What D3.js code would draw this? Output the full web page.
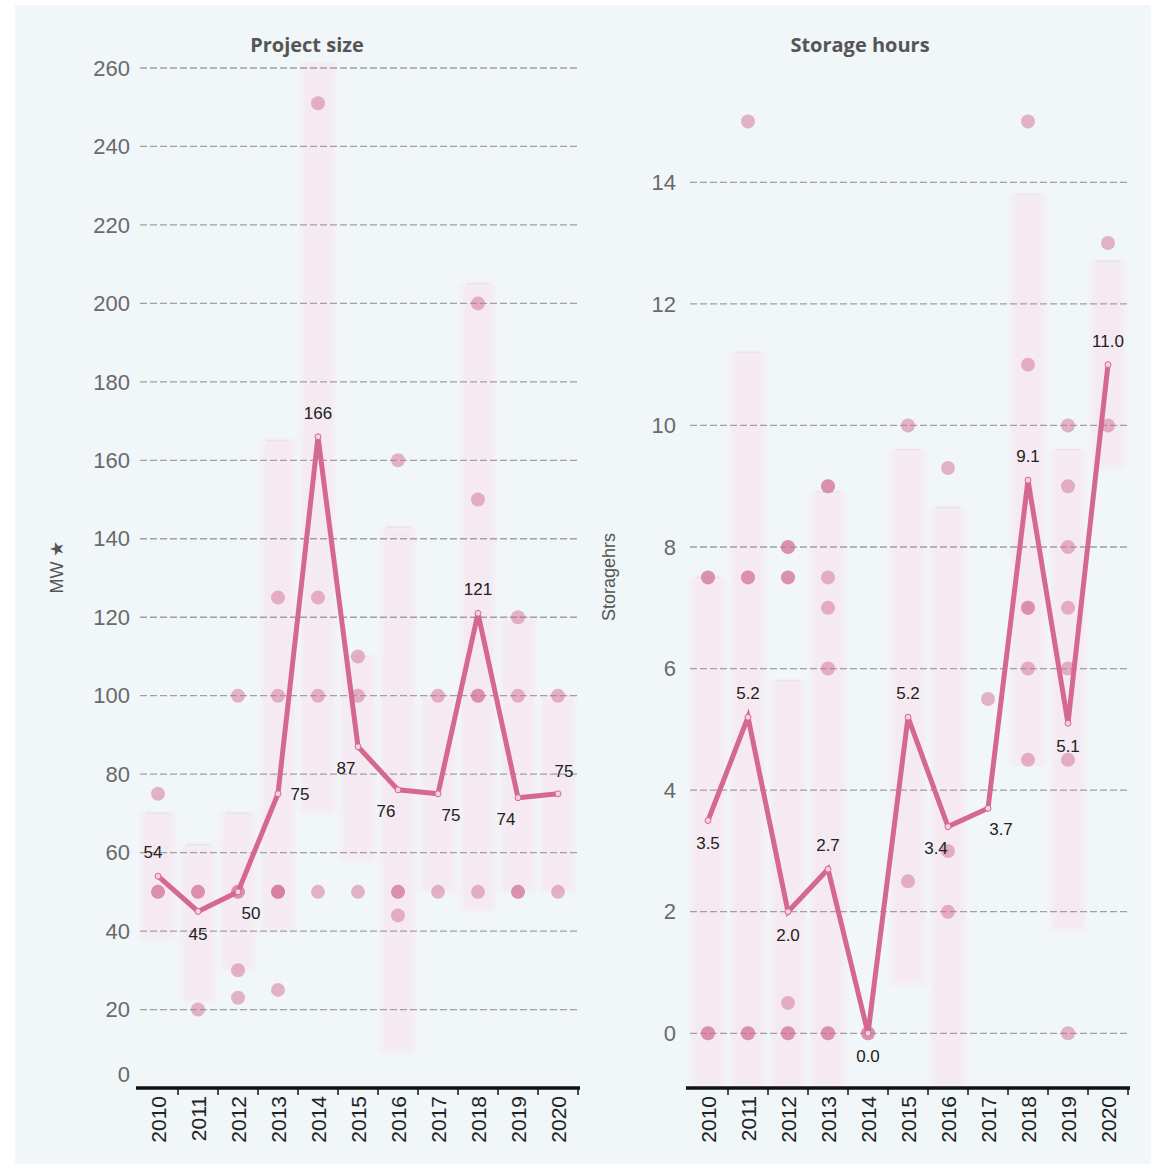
<!DOCTYPE html>
<html><head><meta charset="utf-8">
<script src="https://cdn.jsdelivr.net/npm/d3@7"></script>
<style>body{margin:0;background:#fff;}svg{display:block;}</style>
</head><body>
<script>
// ---------- data ----------
const years = ["2010","2011","2012","2013","2014","2015","2016","2017","2018","2019","2020"];

// Project size (MW)
const sizeMean = [54, 45, 50, 75, 166, 87, 76, 75, 121, 74, 75];
const sizeLow  = [38, 22, 30, 40, 70, 58, 9, 50, 45, 50, 50];
const sizeHigh = [70, 62, 70, 165, 262, 110, 143, 100, 205, 120, 100];
const sizeProjects = [
  [75, 50, 50],
  [50, 50, 20],
  [100, 50, 50, 30, 23],
  [125, 100, 50, 50, 50, 25],
  [251, 125, 100, 50],
  [110, 100, 50],
  [160, 50, 50, 44],
  [100, 50],
  [200, 150, 100, 100, 50],
  [120, 100, 50, 50],
  [100, 50]
];
const sizeTicks = [0, 20, 40, 60, 80, 100, 120, 140, 160, 180, 200, 220, 240, 260];

// Storage hours
const hoursMean = [3.5, 5.2, 2.0, 2.7, 0.0, 5.2, 3.4, 3.7, 9.1, 5.1, 11.0];
const hoursLow  = [-0.9, -0.9, -0.9, -0.9, null, 0.8, -0.9, null, 4.4, 1.7, 9.3];
const hoursHigh = [7.5, 11.2, 5.8, 8.9, null, 9.6, 8.65, null, 13.8, 9.6, 12.7];
const hoursProjects = [
  [7.5, 7.5, 0, 0],
  [15, 7.5, 7.5, 0, 0],
  [8, 8, 7.5, 7.5, 0.5, 0, 0],
  [9, 9, 7.5, 7, 6, 0, 0],
  [0, 0],
  [10, 2.5],
  [9.3, 3, 2],
  [5.5],
  [15, 11, 7, 7, 6, 4.5],
  [10, 9, 8, 7, 6, 4.5, 0],
  [13, 10]
];
const hoursTicks = [0, 2, 4, 6, 8, 10, 12, 14];

// label placement keywords (not positions)
const sizeLabelPlace  = ["aboveLeft","below","belowRight","right","above","belowLeft","belowLeft","belowRight","above","belowLeft","aboveRight"];
const hoursLabelPlace = ["below","above","below","above","below","above","belowLeft","belowRight","above","below","above"];

// ---------- drawing ----------
const W = 1153, H = 1166;
const svg = d3.select("body").append("svg").attr("width", W).attr("height", H);
svg.append("rect").attr("x", 15).attr("y", 5).attr("width", 1136).attr("height", 1159).attr("fill", "#f1f6f9");
const defs = svg.append("defs");
defs.append("filter").attr("id", "soft").append("feGaussianBlur").attr("stdDeviation", 2);

const pink = "#d5688f";
const placeOff = {
  above: [0, -24], below: [0, 23], aboveLeft: [-5, -24], aboveRight: [6, -23],
  belowLeft: [-12, 21], belowRight: [13, 21], right: [22, 0]
};
const numFont = "'Liberation Sans', Arial, sans-serif";

function panel(opt) {
  const g = svg.append("g");
  const x = d3.scaleBand().domain(years).range([opt.x0, opt.x1]);
  const y = d3.scaleLinear().domain(opt.domain).range([opt.yBottom, opt.yTop]);
  const clipId = "clip" + opt.id;
  defs.append("clipPath").attr("id", clipId).append("rect")
    .attr("x", opt.x0).attr("y", opt.yTop - 6).attr("width", opt.x1 - opt.x0).attr("height", opt.yBottom - opt.yTop + 6);

  // title
  g.append("text").attr("x", opt.titleX).attr("y", 52).attr("text-anchor", "middle")
    .attr("font-family", "'Open Sans', 'DejaVu Sans', sans-serif").attr("font-weight", 700)
    .attr("font-size", 20).attr("fill", "#555").text(opt.title);

  // range bars
  const bars = g.append("g").attr("clip-path", `url(#${clipId})`);
  years.forEach((yr, i) => {
    if (opt.low[i] == null) return;
    const bw = x.bandwidth() * 0.85;
    const bx = x(yr) + (x.bandwidth() - bw) / 2;
    const top = y(opt.high[i]), bot = y(opt.low[i]);
    bars.append("rect").attr("x", bx).attr("y", top).attr("width", bw).attr("height", bot - top)
      .attr("fill", "#fbdbe8").attr("opacity", 0.42).attr("filter", "url(#soft)");
    bars.append("line").attr("x1", bx + 5).attr("x2", bx + bw - 5).attr("y1", top).attr("y2", top)
      .attr("stroke", "#ece4e8").attr("stroke-width", 2);
  });

  // gridlines
  g.append("g").selectAll("line").data(opt.ticks.filter(t => t !== opt.noGrid)).join("line")
    .attr("x1", opt.x0 + 2).attr("x2", opt.x1).attr("y1", d => y(d)).attr("y2", d => y(d))
    .attr("stroke", "#a0a0a0").attr("stroke-width", 1.3).attr("stroke-dasharray", "7,3");

  // y tick labels
  g.append("g").selectAll("text").data(opt.ticks).join("text")
    .attr("x", opt.labelX).attr("y", d => y(d) + (d === opt.noGrid ? -14 : 0)).attr("dy", "0.35em").attr("text-anchor", "end")
    .attr("font-family", numFont).attr("font-size", 22)
    .attr("fill", "#6a6a6a").text(d => d);

  // y axis title
  g.append("text").attr("transform", `translate(${opt.yTitleX},${opt.yTitleY}) rotate(-90)`)
    .attr("text-anchor", "middle").attr("font-family", numFont)
    .attr("font-size", 18).attr("fill", "#555").text(opt.yTitle);

  // project dots
  const pts = [];
  opt.projects.forEach((arr, i) => arr.forEach(v => pts.push({yr: years[i], v})));
  g.append("g").selectAll("circle").data(pts).join("circle")
    .attr("cx", d => x(d.yr) + x.bandwidth() / 2).attr("cy", d => y(d.v)).attr("r", 7)
    .attr("fill", "#d27399").attr("fill-opacity", 0.52);

  // mean line
  const line = d3.line().x((d, i) => x(years[i]) + x.bandwidth() / 2).y(d => y(d));
  g.append("path").datum(opt.mean).attr("d", line).attr("fill", "none")
    .attr("stroke", pink).attr("stroke-width", 5).attr("stroke-linejoin", "miter");
  g.append("g").selectAll("circle").data(opt.mean).join("circle")
    .attr("cx", (d, i) => x(years[i]) + x.bandwidth() / 2).attr("cy", d => y(d)).attr("r", 3)
    .attr("fill", "#f3d2df").attr("stroke", pink).attr("stroke-width", 1);

  // value labels
  g.append("g").selectAll("text").data(opt.mean).join("text")
    .attr("x", (d, i) => x(years[i]) + x.bandwidth() / 2 + placeOff[opt.place[i]][0])
    .attr("y", (d, i) => y(d) + placeOff[opt.place[i]][1]).attr("dy", "0.35em")
    .attr("text-anchor", "middle").attr("font-family", numFont)
    .attr("font-size", 17).attr("fill", "#222").text(d => opt.fmt(d));

  // x axis
  const ax = g.append("g");
  ax.append("line").attr("x1", opt.x0 - 2).attr("x2", opt.x1 + 2).attr("y1", opt.yBottom).attr("y2", opt.yBottom)
    .attr("stroke", "#111").attr("stroke-width", 3.5);
  ax.selectAll("line.tk").data(years.slice(1).concat(["end"])).join("line").attr("class", "tk")
    .attr("x1", d => d === "end" ? opt.x1 : x(d)).attr("x2", d => d === "end" ? opt.x1 : x(d))
    .attr("y1", opt.yBottom).attr("y2", opt.yBottom + 7).attr("stroke", "#111").attr("stroke-width", 1.5);
  ax.selectAll("text").data(years).join("text")
    .attr("transform", d => `translate(${x(d) + x.bandwidth() / 2},${opt.yBottom + 8}) rotate(-90)`)
    .attr("text-anchor", "end").attr("dy", "0.36em")
    .attr("font-family", numFont).attr("font-size", 21)
    .attr("fill", "#222").text(d => d);
}

panel({
  id: "L", title: "Project size", titleX: 307, x0: 138, x1: 578,
  domain: [0, 260], yBottom: 1088, yTop: 68, ticks: sizeTicks, noGrid: 0,
  labelX: 130, yTitle: "MW ★", yTitleX: 63, yTitleY: 567,
  mean: sizeMean, low: sizeLow, high: sizeHigh, projects: sizeProjects,
  place: sizeLabelPlace, fmt: d3.format("d")
});

panel({
  id: "R", title: "Storage hours", titleX: 860, x0: 688, x1: 1128,
  domain: [-0.9, 15.88], yBottom: 1088, yTop: 68, ticks: hoursTicks, noGrid: null,
  labelX: 676, yTitle: "Storagehrs", yTitleX: 615, yTitleY: 577,
  mean: hoursMean, low: hoursLow, high: hoursHigh, projects: hoursProjects,
  place: hoursLabelPlace, fmt: d3.format(".1f")
});
</script>
</body></html>
